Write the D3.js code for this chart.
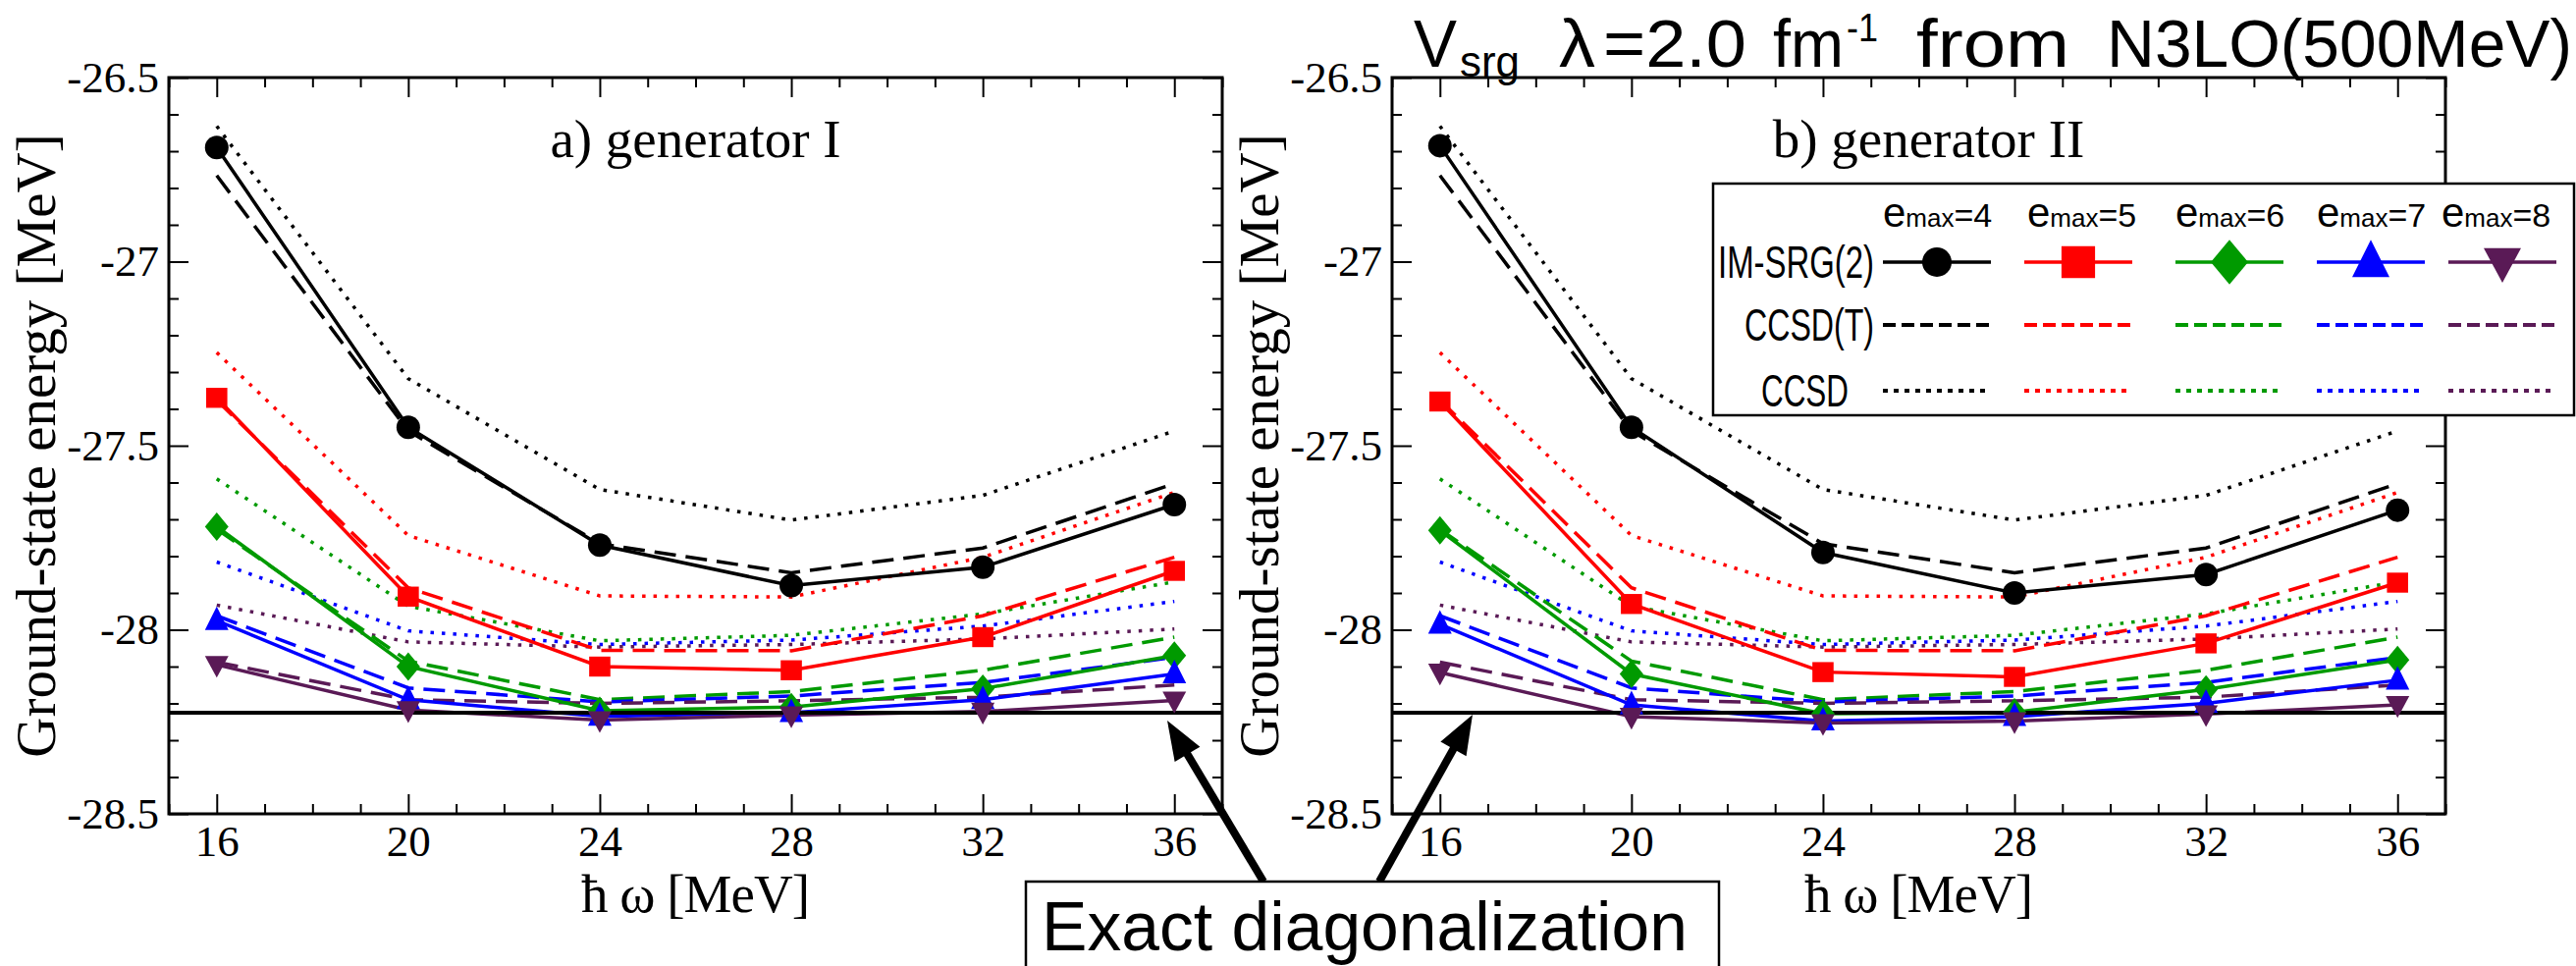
<!DOCTYPE html>
<html>
<head>
<meta charset="utf-8">
<script src="https://cdn.jsdelivr.net/npm/d3@7"></script>
<style>
  body { margin: 0; background: #fff; }
  svg { display: block; }
</style>
</head>
<body>
<script>
// oscillator frequencies (MeV) and model-space sizes
const hw = [16, 20, 24, 28, 32, 36];
const emax = [4, 5, 6, 7, 8];
const colors = ['#000000', '#ff0000', '#009a00', '#0000ff', '#5a1a56'];
const shapes = ['circle', 'square', 'diamond', 'triangle', 'down'];

// IM-SRG(2) ground-state energies, one row per emax
const imsrgGenI = [
  [-26.69, -27.45, -27.77, -27.88, -27.83, -27.66],
  [-27.37, -27.91, -28.10, -28.11, -28.02, -27.84],
  [-27.72, -28.10, -28.22, -28.21, -28.16, -28.07],
  [-27.975, -28.19, -28.235, -28.225, -28.19, -28.12],
  [-28.095, -28.218, -28.245, -28.232, -28.222, -28.192]
];
const imsrgGenII = [
  [-26.685, -27.45, -27.79, -27.90, -27.85, -27.675],
  [-27.38, -27.93, -28.115, -28.128, -28.037, -27.872],
  [-27.73, -28.12, -28.228, -28.224, -28.162, -28.082],
  [-27.985, -28.204, -28.248, -28.236, -28.20, -28.137],
  [-28.116, -28.236, -28.253, -28.248, -28.229, -28.204]
];
// coupled cluster, same in both panels
const ccsdT = [
  [-26.766, -27.46, -27.766, -27.845, -27.778, -27.603],
  [-27.376, -27.886, -28.056, -28.057, -27.962, -27.803],
  [-27.727, -28.085, -28.19, -28.168, -28.11, -28.02],
  [-27.962, -28.158, -28.196, -28.18, -28.143, -28.075],
  [-28.088, -28.19, -28.20, -28.193, -28.183, -28.15]
];
const ccsd = [
  [-26.632, -27.318, -27.619, -27.702, -27.635, -27.46],
  [-27.247, -27.744, -27.908, -27.911, -27.803, -27.627],
  [-27.59, -27.936, -28.03, -28.015, -27.957, -27.87],
  [-27.816, -28.003, -28.04, -28.028, -27.99, -27.923],
  [-27.933, -28.033, -28.047, -28.04, -28.025, -27.998]
];
const exactEnergy = -28.225;
const yTicks = [-26.5, -27, -27.5, -28, -28.5];
const panelTitles = ['a) generator I', 'b) generator II'];
const rowNames = ['IM-SRG(2)', 'CCSD(T)', 'CCSD'];

const W = 2624, H = 984;
const serif = '"Liberation Serif", "Times New Roman", serif';
const sans = '"Liberation Sans", Arial, sans-serif';

const svg = d3.select('body').append('svg')
  .attr('width', W).attr('height', H)
  .style('font-family', serif);
svg.append('rect').attr('width', W).attr('height', H).attr('fill', '#fff');

function markerPath(kind, s) {
  switch (kind) {
    case 'circle':
      return d3.symbol(d3.symbolCircle, Math.PI * s * s)();
    case 'square':
      return 'M' + (-s * 0.9) + ',' + (-s * 0.85) + 'H' + (s * 0.9) + 'V' + (s * 0.85) + 'H' + (-s * 0.9) + 'Z';
    case 'diamond':
      return 'M0,' + (-s * 1.2) + 'L' + s + ',0L0,' + (s * 1.2) + 'L' + (-s) + ',0Z';
    case 'triangle':
      return 'M0,' + (-s * 1.2) + 'L' + s + ',' + (s * 0.8) + 'L' + (-s) + ',' + (s * 0.8) + 'Z';
    case 'down':
      return 'M0,' + (s * 1.1) + 'L' + s + ',' + (-s * 0.75) + 'L' + (-s) + ',' + (-s * 0.75) + 'Z';
    default:
      return d3.symbol(d3.symbolCircle, Math.PI * s * s)();
  }
}

function styleAxis(a) {
  a.select('.domain').remove();
  a.attr('font-family', serif).attr('font-size', 45);
  a.selectAll('line').attr('stroke', '#000').attr('stroke-width', 2);
  a.selectAll('text').attr('fill', '#000');
}

const plotTop = 79, plotBottom = 829, plotWidth = 1073;
const panelLeft = [172, 1418];
const panelData = [imsrgGenI, imsrgGenII];

panelLeft.forEach(function (left, p) {
  const x = d3.scaleLinear().domain([15, 37]).range([left, left + plotWidth]);
  const y = d3.scaleLinear().domain([-28.5, -26.5]).range([plotBottom, plotTop]);
  const g = svg.append('g');

  const minorX = d3.range(15, 38).filter(function (v) { return hw.indexOf(v) < 0; });
  const minorY = d3.range(0, 21).map(function (i) { return +(-28.5 + i * 0.1).toFixed(1); })
    .filter(function (v) { return yTicks.indexOf(v) < 0; });

  g.append('g').attr('transform', 'translate(0,' + plotBottom + ')')
    .call(d3.axisBottom(x).tickValues(hw).tickSize(-20).tickPadding(11).tickFormat(d3.format('d')))
    .call(styleAxis);
  g.append('g').attr('transform', 'translate(0,' + plotBottom + ')')
    .call(d3.axisBottom(x).tickValues(minorX).tickSize(-10).tickFormat(''))
    .call(styleAxis);
  g.append('g').attr('transform', 'translate(0,' + plotTop + ')')
    .call(d3.axisTop(x).tickValues(hw).tickSize(-20).tickFormat(''))
    .call(styleAxis);
  g.append('g').attr('transform', 'translate(0,' + plotTop + ')')
    .call(d3.axisTop(x).tickValues(minorX).tickSize(-10).tickFormat(''))
    .call(styleAxis);
  g.append('g').attr('transform', 'translate(' + left + ',0)')
    .call(d3.axisLeft(y).tickValues(yTicks).tickSize(-20).tickPadding(10).tickFormat(function (d) { return String(d); }))
    .call(styleAxis);
  g.append('g').attr('transform', 'translate(' + left + ',0)')
    .call(d3.axisLeft(y).tickValues(minorY).tickSize(-10).tickFormat(''))
    .call(styleAxis);
  g.append('g').attr('transform', 'translate(' + (left + plotWidth) + ',0)')
    .call(d3.axisRight(y).tickValues(yTicks).tickSize(-20).tickFormat(''))
    .call(styleAxis);
  g.append('g').attr('transform', 'translate(' + (left + plotWidth) + ',0)')
    .call(d3.axisRight(y).tickValues(minorY).tickSize(-10).tickFormat(''))
    .call(styleAxis);

  g.append('rect')
    .attr('x', left).attr('y', plotTop)
    .attr('width', plotWidth).attr('height', plotBottom - plotTop)
    .attr('fill', 'none').attr('stroke', '#000').attr('stroke-width', 3);

  const line = d3.line()
    .x(function (d, i) { return x(hw[i]); })
    .y(function (d) { return y(d); });

  // CCSD dotted, CCSD(T) dashed, IM-SRG(2) solid
  ccsd.forEach(function (row, i) {
    g.append('path').attr('d', line(row)).attr('fill', 'none')
      .attr('stroke', colors[i]).attr('stroke-width', 3.5).attr('stroke-dasharray', '3.5,8');
  });
  ccsdT.forEach(function (row, i) {
    g.append('path').attr('d', line(row)).attr('fill', 'none')
      .attr('stroke', colors[i]).attr('stroke-width', 3.5).attr('stroke-dasharray', '22,10');
  });
  panelData[p].forEach(function (row, i) {
    g.append('path').attr('d', line(row)).attr('fill', 'none')
      .attr('stroke', colors[i]).attr('stroke-width', 3.5);
  });

  g.append('line')
    .attr('x1', left).attr('x2', left + plotWidth)
    .attr('y1', y(exactEnergy)).attr('y2', y(exactEnergy))
    .attr('stroke', '#000').attr('stroke-width', 4);

  panelData[p].forEach(function (row, i) {
    g.selectAll(null).data(row).enter().append('path')
      .attr('transform', function (d, j) { return 'translate(' + x(hw[j]) + ',' + y(d) + ')'; })
      .attr('d', markerPath(shapes[i], 12))
      .attr('fill', colors[i]);
  });

  g.append('text')
    .attr('x', left + plotWidth / 2 + (p ? 10 : 0)).attr('y', 160)
    .attr('text-anchor', 'middle').attr('font-size', 55)
    .text(panelTitles[p]);

  g.append('text')
    .attr('x', left + plotWidth / 2).attr('y', 929)
    .attr('text-anchor', 'middle').attr('font-size', 55)
    .attr('textLength', 233).attr('lengthAdjust', 'spacing')
    .text('\u0127 \u03c9 [MeV]');

  g.append('text')
    .attr('transform', 'translate(' + (left - 116) + ',' + (plotTop + plotBottom) / 2 + ') rotate(-90)')
    .attr('text-anchor', 'middle').attr('font-size', 57)
    .text('Ground-state energy [MeV]');
});

// title, drawn piece by piece
const titleParts = [
  { t: 'V', x: 1440, w: 44, size: 68, dy: 0 },
  { t: 'srg', x: 1487, w: 61, size: 44, dy: 10 },
  { t: '\u03bb', x: 1588, w: 37, size: 68, dy: 0 },
  { t: '=2.0', x: 1633, w: 146, size: 68, dy: 0 },
  { t: 'fm', x: 1806, w: 72, size: 68, dy: 0 },
  { t: '-1', x: 1881, w: 32, size: 40, dy: -26 },
  { t: 'from', x: 1952, w: 156, size: 68, dy: 0 },
  { t: 'N3LO(500MeV)', x: 2146, w: 474, size: 68, dy: 0 }
];
titleParts.forEach(function (d) {
  svg.append('text').attr('font-family', sans)
    .attr('x', d.x).attr('y', 68 + d.dy).attr('font-size', d.size)
    .attr('textLength', d.w).attr('lengthAdjust', 'spacingAndGlyphs')
    .text(d.t);
});

// legend
const legend = svg.append('g').attr('font-family', sans);
legend.append('rect')
  .attr('x', 1745).attr('y', 187).attr('width', 877).attr('height', 236)
  .attr('fill', '#fff').attr('stroke', '#000').attr('stroke-width', 2.5);

const colStart = [1918, 2062, 2216, 2360, 2494];
const rowY = [267, 331, 398];
const headStart = [1918, 2065, 2216, 2360, 2487];

emax.forEach(function (e, i) {
  const t = legend.append('text').attr('x', headStart[i]).attr('y', 231);
  t.append('tspan').attr('font-size', 42).text('e');
  t.append('tspan').attr('font-size', 26).text('max');
  t.append('tspan').attr('font-size', 34).text('=' + e);

  legend.append('line').attr('x1', colStart[i]).attr('x2', colStart[i] + 110)
    .attr('y1', rowY[0]).attr('y2', rowY[0])
    .attr('stroke', colors[i]).attr('stroke-width', 3.5);
  legend.append('path')
    .attr('transform', 'translate(' + (colStart[i] + 55) + ',' + rowY[0] + ')')
    .attr('d', markerPath(shapes[i], shapes[i] === 'circle' ? 15 : 19))
    .attr('fill', colors[i]);
  legend.append('line').attr('x1', colStart[i]).attr('x2', colStart[i] + 110)
    .attr('y1', rowY[1]).attr('y2', rowY[1])
    .attr('stroke', colors[i]).attr('stroke-width', 4).attr('stroke-dasharray', '13,6');
  legend.append('line').attr('x1', colStart[i]).attr('x2', colStart[i] + 110)
    .attr('y1', rowY[2]).attr('y2', rowY[2])
    .attr('stroke', colors[i]).attr('stroke-width', 4).attr('stroke-dasharray', '5,6');
});

const rowWidth = [159, 132, 89];
const rowRight = [1909, 1909, 1883];
rowNames.forEach(function (name, r) {
  legend.append('text')
    .attr('x', rowRight[r] - rowWidth[r]).attr('y', rowY[r] + 16)
    .attr('font-size', 46)
    .attr('textLength', rowWidth[r]).attr('lengthAdjust', 'spacingAndGlyphs')
    .text(name);
});

// arrows to the exact diagonalization lines
const arrows = [[[1287, 898], [1189, 734]], [[1405, 898], [1500, 728]]];
arrows.forEach(function (a) {
  const dx = a[1][0] - a[0][0], dy = a[1][1] - a[0][1];
  const len = Math.sqrt(dx * dx + dy * dy);
  const ux = dx / len, uy = dy / len;
  const bx = a[1][0] - ux * 40, by = a[1][1] - uy * 40;
  svg.append('line')
    .attr('x1', a[0][0]).attr('y1', a[0][1]).attr('x2', bx + ux * 4).attr('y2', by + uy * 4)
    .attr('stroke', '#000').attr('stroke-width', 8);
  svg.append('path')
    .attr('d', 'M' + a[1][0] + ',' + a[1][1] +
      'L' + (bx - uy * 15) + ',' + (by + ux * 15) +
      'L' + (bx + uy * 15) + ',' + (by - ux * 15) + 'Z')
    .attr('fill', '#000');
});

svg.append('rect')
  .attr('x', 1045).attr('y', 898).attr('width', 706).attr('height', 110)
  .attr('fill', '#fff').attr('stroke', '#000').attr('stroke-width', 2.5);
svg.append('text')
  .attr('x', 1061).attr('y', 968).attr('font-family', sans).attr('font-size', 70)
  .attr('textLength', 658).attr('lengthAdjust', 'spacingAndGlyphs')
  .text('Exact diagonalization');
</script>
</body>
</html>
